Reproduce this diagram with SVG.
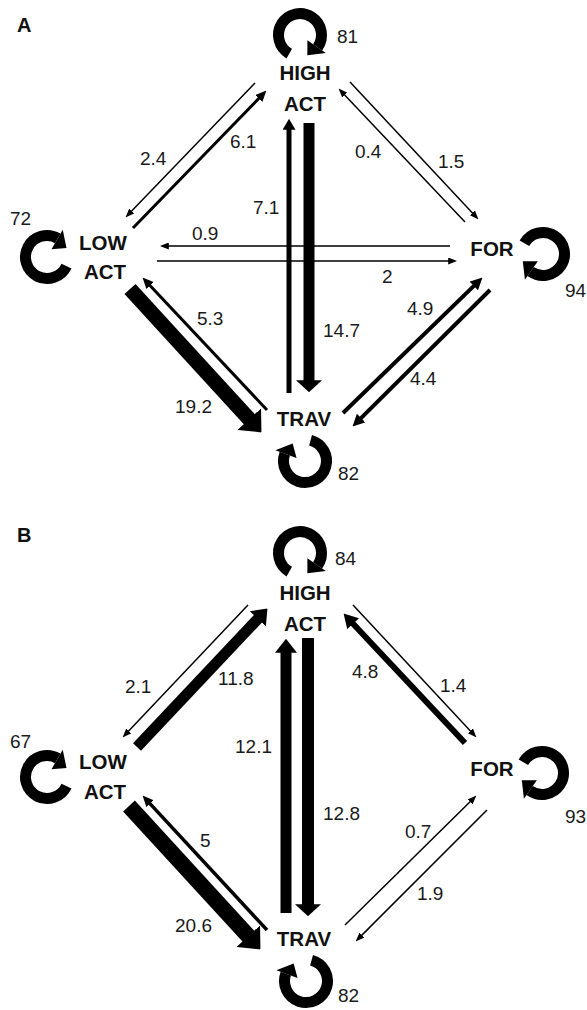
<svg xmlns="http://www.w3.org/2000/svg" width="587" height="1010" viewBox="0 0 587 1010">
<style>
.num{font-family:"Liberation Sans",Arial,sans-serif;font-size:19px;fill:#1a1a1a}
.lbl{font-family:"Liberation Sans",Arial,sans-serif;font-size:20.5px;font-weight:bold;fill:#111;text-anchor:middle}
.pl{font-family:"Liberation Sans",Arial,sans-serif;font-size:20px;font-weight:bold;fill:#111}
.e{stroke:#000;fill:none}
</style>
<defs>
<marker id="mt" markerUnits="userSpaceOnUse" viewBox="0 -3.5 9 7" refX="0.8" refY="0" markerWidth="9" markerHeight="7" orient="auto"><path d="M0,-3.5L9,0L0,3.5z"/></marker>
<marker id="m3" markerUnits="userSpaceOnUse" viewBox="0 -5 11 10" refX="0.8" refY="0" markerWidth="11" markerHeight="10" orient="auto"><path d="M0,-5L11,0L0,5z"/></marker>
<marker id="m4" markerUnits="userSpaceOnUse" viewBox="0 -6 12 12" refX="0.8" refY="0" markerWidth="12" markerHeight="12" orient="auto"><path d="M0,-6L12,0L0,6z"/></marker>
<marker id="m5" markerUnits="userSpaceOnUse" viewBox="0 -6.5 11 13" refX="0.8" refY="0" markerWidth="11" markerHeight="13" orient="auto"><path d="M0,-6.5L11,0L0,6.5z"/></marker>
<marker id="m6" markerUnits="userSpaceOnUse" viewBox="0 -8 14 16" refX="0.8" refY="0" markerWidth="14" markerHeight="16" orient="auto"><path d="M0,-8L14,0L0,8z"/></marker>
<marker id="m11" markerUnits="userSpaceOnUse" viewBox="0 -11 14 22" refX="0.8" refY="0" markerWidth="14" markerHeight="22" orient="auto"><path d="M0,-11L14,0L0,11z"/></marker>
<marker id="m12" markerUnits="userSpaceOnUse" viewBox="0 -13 12 26" refX="0.8" refY="0" markerWidth="12" markerHeight="26" orient="auto"><path d="M0,-13L12,0L0,13z"/></marker>
<marker id="m15" markerUnits="userSpaceOnUse" viewBox="0 -16 18 32" refX="0.8" refY="0" markerWidth="18" markerHeight="32" orient="auto"><path d="M0,-16L18,0L0,16z"/></marker>
<g id="loop"><path d="M-12.33,17.61A21.5,21.5 0 1 1 16.47,13.82" fill="none" stroke="#000" stroke-width="11"/><polygon points="24.13,20.25 6.89,5.78 5.56,20.77"/></g>
</defs>

<text class="pl" x="17" y="32">A</text>
<text class="pl" x="17" y="542">B</text>

<g id="A-HIGH-ACT">
<use href="#loop" transform="translate(300,35) rotate(-5)"/>
<text class="num" x="337" y="43">81</text>
<text class="lbl" x="305" y="80">HIGH</text>
<text class="lbl" x="305" y="111">ACT</text>
</g>
<g id="A-LOW-ACT">
<use href="#loop" transform="translate(47,257) rotate(260)"/>
<text class="num" x="10" y="225">72</text>
<text class="lbl" x="103" y="250">LOW</text>
<text class="lbl" x="105" y="279">ACT</text>
</g>
<g id="A-FOR">
<use href="#loop" transform="translate(543,254) rotate(85)"/>
<text class="num" x="565" y="297">94</text>
<text class="lbl" x="492" y="256">FOR</text>
</g>
<g id="A-TRAV">
<use href="#loop" transform="translate(305,461) rotate(160)"/>
<text class="num" x="338" y="480">82</text>
<text class="lbl" x="304" y="426">TRAV</text>
</g>

<g id="A-connectors">
<line class="e" x1="255" y1="83" x2="131.2" y2="211.5" stroke-width="1.5" marker-end="url(#mt)"/>
<text class="num" x="140" y="165">2.4</text>
<line class="e" x1="133" y1="228" x2="259.3" y2="97.9" stroke-width="3" marker-end="url(#m3)"/>
<text class="num" x="230" y="148">6.1</text>
<line class="e" x1="289" y1="393" x2="289" y2="129" stroke-width="5" marker-end="url(#m5)"/>
<text class="num" x="253" y="214">7.1</text>
<line class="e" x1="309" y1="123" x2="309" y2="381" stroke-width="11" marker-end="url(#m12)"/>
<text class="num" x="323" y="337">14.7</text>
<line class="e" x1="450" y1="246" x2="168" y2="246" stroke-width="1.5" marker-end="url(#mt)"/>
<text class="num" x="192" y="240">0.9</text>
<line class="e" x1="157" y1="261" x2="449" y2="261" stroke-width="1.5" marker-end="url(#mt)"/>
<text class="num" x="382" y="283">2</text>
<line class="e" x1="130" y1="289" x2="249.8" y2="419.7" stroke-width="15" marker-end="url(#m15)"/>
<text class="num" x="175" y="413">19.2</text>
<line class="e" x1="267" y1="410" x2="149.5" y2="285" stroke-width="3" marker-end="url(#m3)"/>
<text class="num" x="197" y="325">5.3</text>
<line class="e" x1="465" y1="222" x2="344.2" y2="94.5" stroke-width="1.5" marker-end="url(#mt)"/>
<text class="num" x="355" y="158">0.4</text>
<line class="e" x1="350" y1="82" x2="472.9" y2="213.4" stroke-width="1.5" marker-end="url(#mt)"/>
<text class="num" x="438" y="168">1.5</text>
<line class="e" x1="343" y1="413" x2="474.4" y2="285.4" stroke-width="4" marker-end="url(#m4)"/>
<text class="num" x="407" y="315">4.9</text>
<line class="e" x1="490" y1="290" x2="360.5" y2="418.6" stroke-width="4" marker-end="url(#m4)"/>
<text class="num" x="410" y="385">4.4</text>
</g>

<g id="B-HIGH-ACT">
<use href="#loop" transform="translate(300,553) rotate(-5)"/>
<text class="num" x="335" y="565">84</text>
<text class="lbl" x="305" y="600">HIGH</text>
<text class="lbl" x="305" y="631">ACT</text>
</g>
<g id="B-LOW-ACT">
<use href="#loop" transform="translate(47,777) rotate(260)"/>
<text class="num" x="10" y="748">67</text>
<text class="lbl" x="103" y="769">LOW</text>
<text class="lbl" x="105" y="799">ACT</text>
</g>
<g id="B-FOR">
<use href="#loop" transform="translate(542,773) rotate(85)"/>
<text class="num" x="565" y="823">93</text>
<text class="lbl" x="492" y="776">FOR</text>
</g>
<g id="B-TRAV">
<use href="#loop" transform="translate(306,981) rotate(160)"/>
<text class="num" x="338" y="1002">82</text>
<text class="lbl" x="304" y="946">TRAV</text>
</g>

<g id="B-connectors">
<line class="e" x1="248" y1="605" x2="128.2" y2="731.5" stroke-width="1.5" marker-end="url(#mt)"/>
<text class="num" x="125" y="693">2.1</text>
<line class="e" x1="137" y1="747" x2="258.4" y2="618.2" stroke-width="11" marker-end="url(#m11)"/>
<text class="num" x="218" y="685">11.8</text>
<line class="e" x1="286" y1="913" x2="286" y2="652" stroke-width="11" marker-end="url(#m11)"/>
<text class="num" x="235" y="753">12.1</text>
<line class="e" x1="308" y1="638" x2="308" y2="905" stroke-width="12" marker-end="url(#m12)"/>
<text class="num" x="323" y="820">12.8</text>
<line class="e" x1="129" y1="806" x2="248.8" y2="936.7" stroke-width="16" marker-end="url(#m15)"/>
<text class="num" x="175" y="932">20.6</text>
<line class="e" x1="267" y1="930" x2="149.5" y2="803.1" stroke-width="3.5" marker-end="url(#m3)"/>
<text class="num" x="200" y="847">5</text>
<line class="e" x1="465" y1="743" x2="352.6" y2="623.2" stroke-width="6" marker-end="url(#m6)"/>
<text class="num" x="352" y="678">4.8</text>
<line class="e" x1="353" y1="605" x2="470.9" y2="731.4" stroke-width="1.5" marker-end="url(#mt)"/>
<text class="num" x="440" y="692">1.4</text>
<line class="e" x1="345" y1="925" x2="470.6" y2="801.3" stroke-width="1.5" marker-end="url(#mt)"/>
<text class="num" x="405" y="838">0.7</text>
<line class="e" x1="487" y1="810" x2="361.4" y2="935.6" stroke-width="1.5" marker-end="url(#mt)"/>
<text class="num" x="417" y="900">1.9</text>
</g>
</svg>
